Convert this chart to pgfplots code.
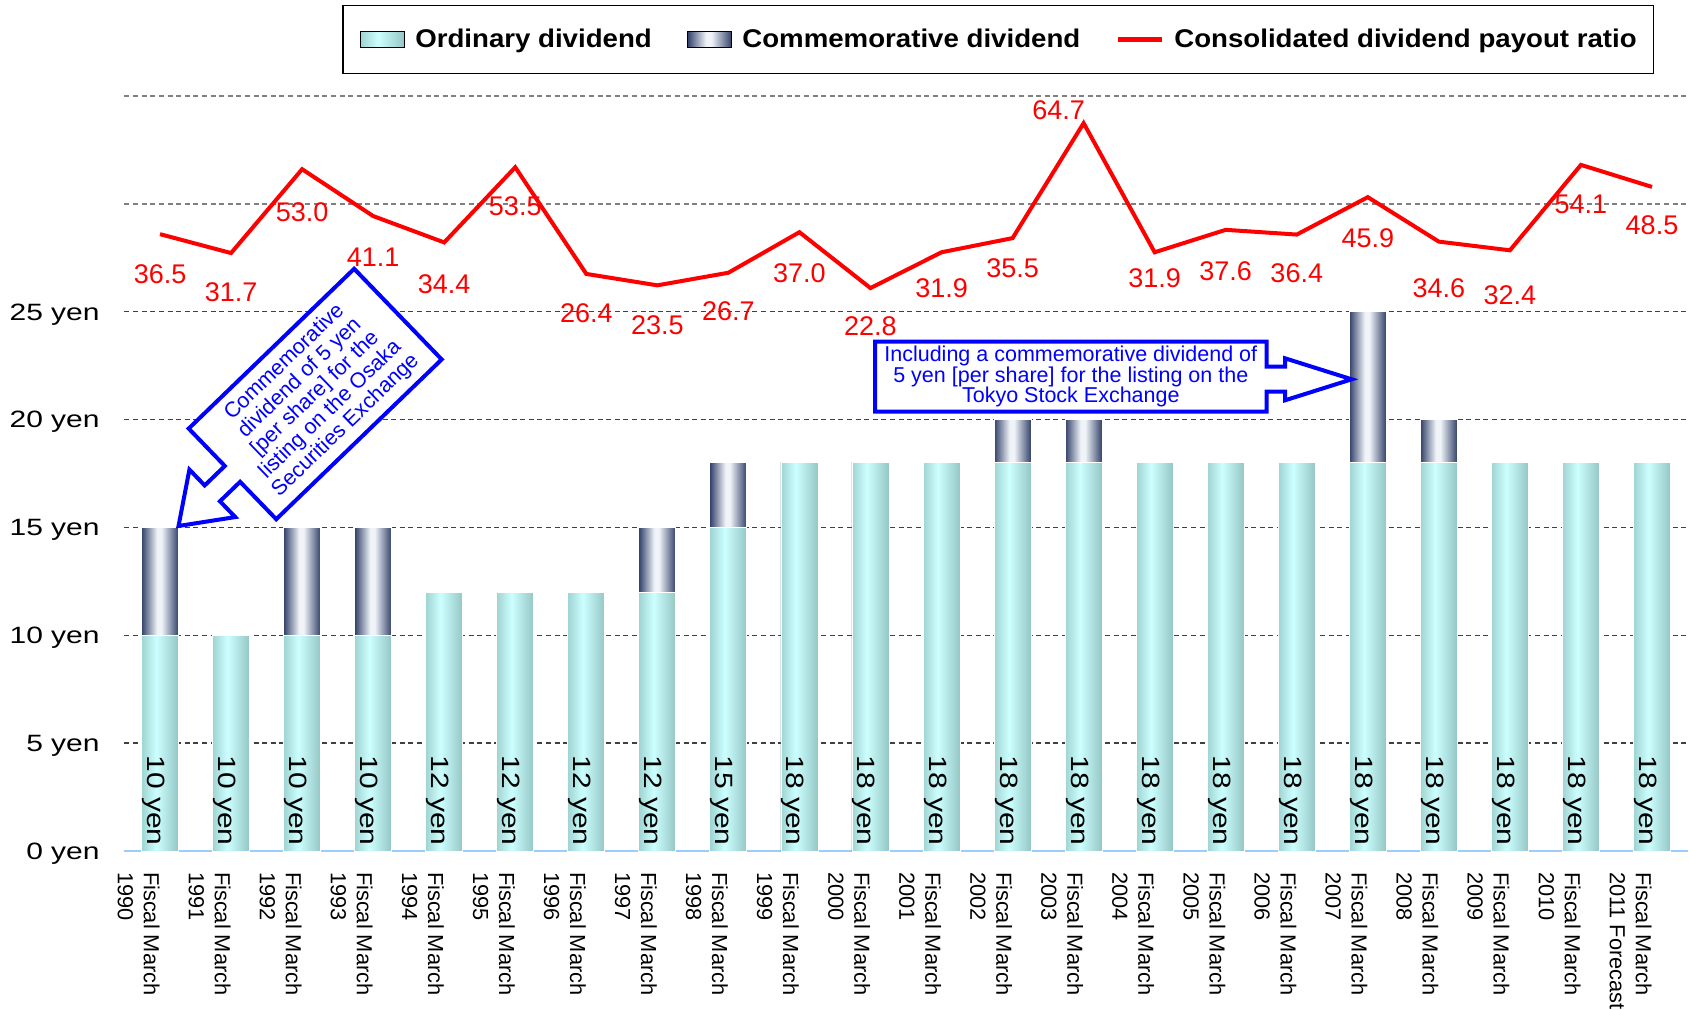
\documentclass[border=0pt]{standalone}
\usepackage{fontspec}
\setmainfont{Liberation Sans}
\newfontfamily\tickfont[FakeStretch=1.27]{Liberation Sans}
\newfontfamily\barfont[FakeStretch=1.2]{Liberation Sans}
\newfontfamily\legfont[FakeStretch=1.08]{Liberation Sans}
\usepackage{pgfplots}
\pgfplotsset{compat=1.18}
\usepackage{pgfplotstable}

\definecolor{ordL}{RGB}{160,212,210}
\definecolor{ordM}{RGB}{204,255,255}
\definecolor{ordR}{RGB}{148,198,196}
\definecolor{comL}{RGB}{50,65,105}
\definecolor{comM}{RGB}{240,244,248}
\definecolor{comR}{RGB}{50,65,105}
\definecolor{axisblue}{RGB}{153,204,255}

\pgfdeclarehorizontalshading{ordshade}{100bp}{color(0bp)=(ordL); color(25bp)=(ordL); color(45bp)=(ordM); color(75bp)=(ordR); color(100bp)=(ordR)}
\pgfdeclarehorizontalshading{comshade}{100bp}{color(0bp)=(comL); color(25bp)=(comL); color(46bp)=(comM); color(52bp)=(comM); color(75bp)=(comR); color(100bp)=(comR)}

% ord = ordinary dividend, com = commemorative dividend, tot = total (ord+com)
\pgfplotstableread{
x ord com tot zero
0 10 5 15 0
1 10 0 10 0
2 10 5 15 0
3 10 5 15 0
4 12 0 12 0
5 12 0 12 0
6 12 0 12 0
7 12 3 15 0
8 15 3 18 0
9 18 0 18 0
10 18 0 18 0
11 18 0 18 0
12 18 2 20 0
13 18 2 20 0
14 18 0 18 0
15 18 0 18 0
16 18 0 18 0
17 18 7 25 0
18 18 2 20 0
19 18 0 18 0
20 18 0 18 0
21 18 0 18 0
}\divtable

\pgfplotstableread{
x ratio dx dy
0 36.5 0 -14.2
1 31.7 0 -13.8
2 53.0 0 -15.5
3 41.1 0 -15
4 34.4 0 -15
5 53.5 0 -13.8
6 26.4 0 -13.9
7 23.5 0 -14
8 26.7 0 -13.6
9 37.0 0 -14.7
10 22.8 0 -13.4
11 31.9 0 -12.2
12 35.5 0 -9.2
13 64.7 -12.5 12.5
14 31.9 0 -7.2
15 37.6 0 -15
16 36.4 0 -13.5
17 45.9 0 -14.7
18 34.6 0 -17.5
19 32.4 0 -16.5
20 54.1 0 -14.2
21 48.5 0 -13.2
}\ratiotable

\begin{document}
\begin{tikzpicture}
\begin{axis}[
  at={(62.25pt,79pt)}, anchor=south west, scale only axis,
  width=781.5pt, height=377.5pt,
  xmin=-0.5, xmax=21.5, ymin=0, ymax=35,
  ybar, bar width=18.5pt,
  bar shift auto/.style={/pgf/bar shift=0pt},
  bar shift=0pt,
  clip=false,
  axis x line=bottom, axis y line=left,
  x axis line style={draw=axisblue, line width=1pt, -},
  y axis line style={draw=none},
  major tick length=0pt,
  xtick={0,...,21},
  xticklabels={{Fiscal March\\1990},{Fiscal March\\1991},{Fiscal March\\1992},{Fiscal March\\1993},{Fiscal March\\1994},{Fiscal March\\1995},{Fiscal March\\1996},{Fiscal March\\1997},{Fiscal March\\1998},{Fiscal March\\1999},{Fiscal March\\2000},{Fiscal March\\2001},{Fiscal March\\2002},{Fiscal March\\2003},{Fiscal March\\2004},{Fiscal March\\2005},{Fiscal March\\2006},{Fiscal March\\2007},{Fiscal March\\2008},{Fiscal March\\2009},{Fiscal March\\2010},{Fiscal March\\2011 Forecast}},
  xticklabel style={font=\fontsize{10.9}{13}\selectfont, rotate=-90, anchor=north west, align=left, inner sep=0pt},
  xticklabel shift=10.3pt,
  ytick={0,5,10,15,20,25},
  yticklabels={0 yen,5 yen,10 yen,15 yen,20 yen,25 yen},
  yticklabel style={font=\tickfont\fontsize{11.8}{13}\selectfont, anchor=base east, inner sep=0pt, yshift=-4.2pt},
  yticklabel shift=12.25pt,
  ymajorgrids,
  major grid style={draw=black!75, line width=0.7pt, dash pattern=on 2.5pt off 1.8pt},
  extra y ticks={30,35}, extra y tick labels={},
  extra y tick style={major grid style={draw=black!50, line width=0.7pt, dash pattern=on 2.5pt off 1.8pt}},
]
\pgfplotsinvokeforeach{0,...,21}{
  \addplot[bar shift=0pt, draw=white, line width=0.4pt, shade, shading=comshade,
    restrict expr to domain={\coordindex}{#1:#1}] table[x=x, y=tot] {\divtable};
  \addplot[bar shift=0pt, draw=white, line width=0.4pt, shade, shading=ordshade,
    restrict expr to domain={\coordindex}{#1:#1}] table[x=x, y=ord] {\divtable};
}
\addplot[bar shift=0pt, draw=none, fill=none, nodes near coords={\pgfplotspointmeta~yen}, point meta=explicit symbolic,
  every node near coord/.style={font=\barfont\fontsize{12.5}{14}\selectfont, text=black, inner sep=0pt, xshift=-3.2pt, yshift=2.5pt, rotate=-90, anchor=east}]
  table[x=x, y=zero, meta=ord] {\divtable};
\end{axis}

\begin{axis}[
  at={(62.25pt,79pt)}, anchor=south west, scale only axis,
  width=781.5pt, height=377.5pt,
  xmin=-0.5, xmax=21.5, ymin=-120.2, ymax=71.6,
  hide axis, clip=false,
  legend columns=3, legend cell align=left,
  legend style={at={(0.13916,1.12053)}, anchor=north west, draw=black, line width=0.75pt,
    inner xsep=8.5pt, inner ysep=11.5pt,
    font=\legfont\bfseries\fontsize{12.8}{14}\selectfont,
    nodes={inner sep=0pt},
    /tikz/every odd column/.append style={column sep=5pt},
    /tikz/every even column/.append style={column sep=17.5pt}},
]
\addlegendimage{legend image code/.code={\path[shade, shading=ordshade] (0pt,-4pt) rectangle (22pt,4pt);}}
\addlegendentry{Ordinary dividend}
\addlegendimage{legend image code/.code={\path[shade, shading=comshade] (0pt,-4pt) rectangle (22pt,4pt);}}
\addlegendentry{Commemorative dividend}
\addplot[red, line width=2pt, nodes near coords, point meta=explicit symbolic,
  visualization depends on={\thisrow{dx} \as \ldx},
  visualization depends on={\thisrow{dy} \as \ldy},
  every node near coord/.style={font=\fontsize{13.5}{15}\selectfont, text=red, inner sep=0pt, anchor=north, xshift=\ldx pt, yshift=\ldy pt},
  legend image code/.code={\draw[red, line width=2.5pt] (0pt,0pt) -- (22pt,0pt);}]
  table[x=x, y=ratio, meta=ratio] {\ratiotable};
\addlegendentry{Consolidated dividend payout ratio}
\end{axis}

% Callout 1 (Osaka)
\begin{scope}[shift={(157.6pt,307.5pt)}, rotate=44]
\draw[blue, line width=2pt, fill=white, line join=miter]
  (-57.5pt,31.5pt) -- (57.5pt,31.5pt) -- (57.5pt,-31.5pt) -- (-57.5pt,-31.5pt)
  -- (-57.5pt,-5.5pt) -- (-71.5pt,-5.5pt) -- (-71.5pt,-16.5pt) -- (-95pt,0pt)
  -- (-71.5pt,16.5pt) -- (-71.5pt,5.5pt) -- (-57.5pt,5.5pt) -- cycle;
\node[transform shape, align=center, text=blue, inner sep=0pt, font=\fontsize{10.7}{11}\selectfont] at (0,0)
  {Commemorative\\dividend of 5 yen\\{[per share]} for the\\listing on the Osaka\\Securities Exchange};
\end{scope}

% Callout 2 (Tokyo)
\draw[blue, line width=2pt, fill=white, line join=miter]
  (437.5pt,333.65pt) -- (633.35pt,333.65pt) -- (633.35pt,321.15pt) -- (642.5pt,321.15pt)
  -- (642.5pt,325.35pt) -- (675.85pt,314.85pt) -- (642.5pt,304.35pt) -- (642.5pt,308.65pt)
  -- (633.35pt,308.65pt) -- (633.35pt,298.65pt) -- (437.5pt,298.65pt) -- cycle;
\node[align=center, text=blue, inner sep=0pt, font=\fontsize{10.75}{10.3}\selectfont] at (535.4pt,316.15pt)
  {Including a commemorative dividend of\\5 yen {[per share]} for the listing on the\\Tokyo Stock Exchange};

\pgfresetboundingbox
\path[use as bounding box] (0,0) rectangle (844.5pt,504.5pt);
\end{tikzpicture}
\end{document}
